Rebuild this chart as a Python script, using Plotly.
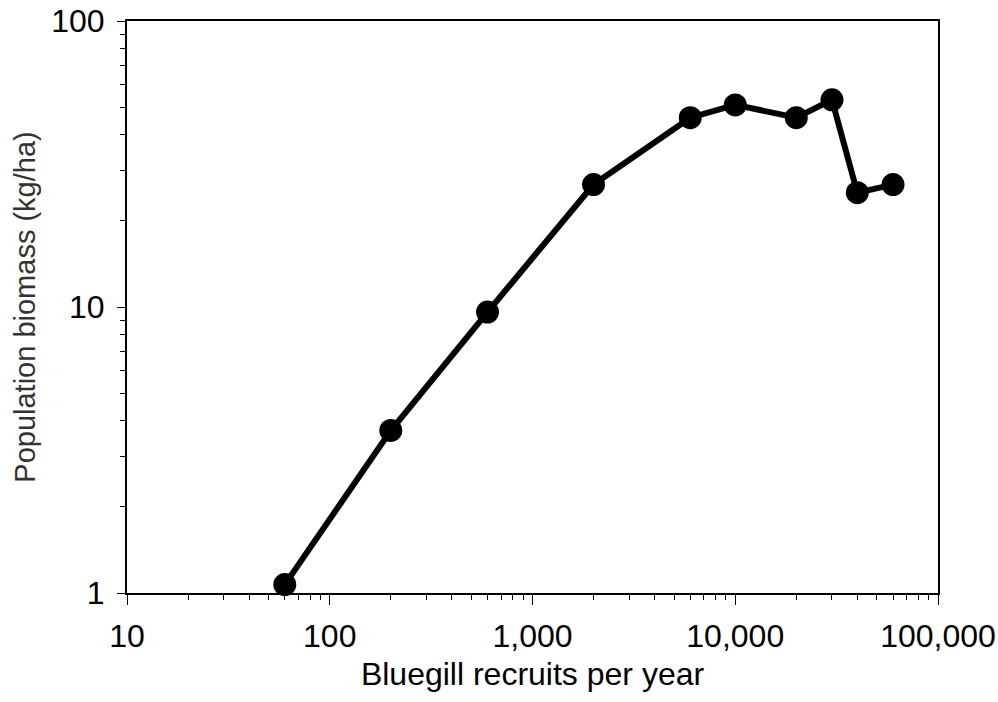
import plotly.graph_objects as go

# Bluegill recruitment vs. population biomass
recruits = [60, 200, 600, 2000, 6000, 10000, 20000, 30000, 40000, 60000]
biomass = [1.07, 3.7, 9.6, 26.8, 45.9, 50.9, 45.9, 53.0, 25.1, 26.8]

x_tick_vals = [10, 100, 1000, 10000, 100000]
x_tick_text = ["10", "100", "1,000", "10,000", "100,000"]
y_tick_vals = [1, 10, 100]
y_tick_text = ["1", "10", "100"]

font_family = "Liberation Sans, Arial, sans-serif"

fig = go.Figure()
fig.add_trace(go.Scatter(
    x=recruits,
    y=biomass,
    mode="lines+markers",
    line=dict(color="black", width=6),
    marker=dict(color="black", size=23),
    showlegend=False,
    cliponaxis=False,
))

axis_common = dict(
    type="log",
    automargin=False,
    showgrid=False,
    zeroline=False,
    showline=True,
    linecolor="black",
    linewidth=2,
    mirror=True,
    ticks="outside",
    tickcolor="black",
    tickwidth=1,
    tickfont=dict(family=font_family, size=32, color="black"),
)

fig.update_xaxes(
    **axis_common,
    range=[1, 5],
    tickvals=x_tick_vals,
    ticktext=x_tick_text,
    ticklen=10,
    ticklabelstandoff=4,
    minor=dict(ticks="outside", ticklen=5, tickcolor="black", tickwidth=1, dtick="D1"),
    title=dict(text="Bluegill recruits per year",
               font=dict(family=font_family, size=32, color="black"), standoff=9),
)
fig.update_yaxes(
    **axis_common,
    range=[0, 2],
    tickvals=y_tick_vals,
    ticktext=y_tick_text,
    ticklen=8,
    ticklabelstandoff=6,
    minor=dict(ticks="outside", ticklen=5, tickcolor="black", tickwidth=1, dtick="D1"),
    title=dict(text="Population biomass (kg/ha)",
               font=dict(family=font_family, size=29, color="#333333"), standoff=7),
)

fig.update_layout(
    width=998,
    height=702,
    margin=dict(l=127, r=60, t=21, b=109),
    plot_bgcolor="white",
    paper_bgcolor="white",
)

fig.write_html("out.html")
